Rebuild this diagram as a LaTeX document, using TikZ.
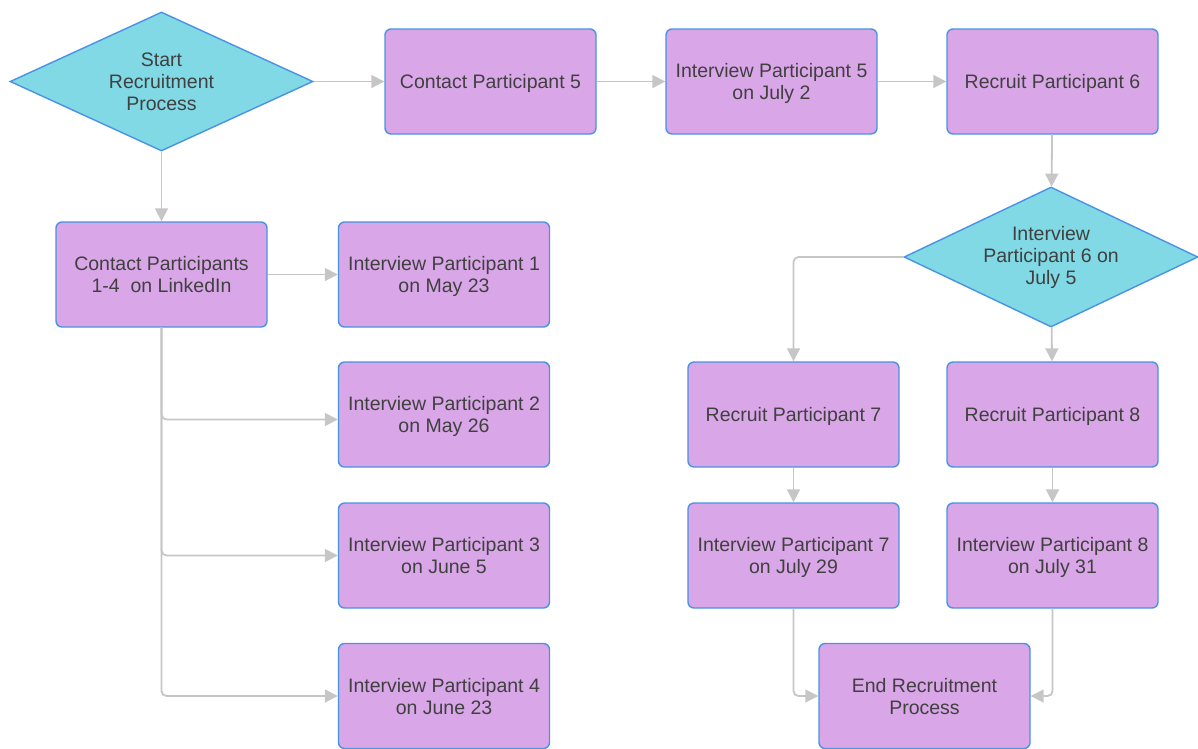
\documentclass[tikz,border=0pt]{standalone}
\usepackage{fontspec}
\setmainfont{Liberation Sans}
\usetikzlibrary{shapes.geometric,arrows.meta}

\definecolor{boxfill}{HTML}{D9A6E8}
\definecolor{decfill}{HTML}{80D9E4}
\definecolor{edgeblue}{HTML}{4A92E3}
\definecolor{linkgrey}{HTML}{C6C6C6}
\definecolor{textgrey}{HTML}{404040}

\tikzset{
  stepbox/.style={rectangle, rounded corners=6pt, draw=edgeblue, fill=boxfill,
    line width=1.4pt, minimum width=211pt, minimum height=105pt, inner sep=0pt,
    text depth=0pt, align=center, text=textgrey, font=\fontsize{19.5}{22}\selectfont},
  decision/.style={diamond, draw=edgeblue, fill=decfill, line width=1.4pt,
    minimum width=303pt, minimum height=139pt, aspect=2.18, inner sep=0pt,
    align=center, text=textgrey, font=\fontsize{19.5}{22}\selectfont},
  link/.style={draw=linkgrey, line width=1.8pt, rounded corners=5pt,
    -{Triangle[length=13pt,width=13pt]}},
}

\begin{document}
\begin{tikzpicture}[x=1pt, y=-1pt]

  %% ════ 判断框 ════
  \node[decision] (start) at (161.5,81.5) {Start\\Recruitment\\Process};
  \node[decision, minimum width=294pt, minimum height=140pt] (int6) at (1051,257) {Interview\\Participant 6 on\\July 5};

  %% ════ 上排 ════
  \node[stepbox] (contact5)  at (490.5,81.5)  {Contact Participant 5};
  \node[stepbox] (int5)      at (771.5,81.5)  {Interview Participant 5\\on July 2};
  \node[stepbox] (recruit6)  at (1052.5,81.5) {Recruit Participant 6};

  %% ════ 左侧 ════
  \node[stepbox] (contact14) at (161.5,274.5) {Contact Participants\\1-4~ on LinkedIn};
  \node[stepbox] (int1)      at (444,274.5)   {Interview Participant 1\\on May 23};
  \node[stepbox] (int2)      at (444,414.5)   {Interview Participant 2\\on May 26};
  \node[stepbox] (int3)      at (444,555.5)   {Interview Participant 3\\on June 5};
  \node[stepbox] (int4)      at (444,696)     {Interview Participant 4\\on June 23};

  %% ════ 右侧 ════
  \node[stepbox] (recruit7)  at (793.5,414.5)  {Recruit Participant 7};
  \node[stepbox] (recruit8)  at (1052.5,414.5) {Recruit Participant 8};
  \node[stepbox] (int7)      at (793.5,555.5)  {Interview Participant 7\\on July 29};
  \node[stepbox] (int8)      at (1052.5,555.5) {Interview Participant 8\\on July 31};
  \node[stepbox] (finish)    at (924.5,696)    {End Recruitment\\Process};

  %% ════ 连线 ════
  \draw[link] (start) -- (contact5);
  \draw[link] (contact5) -- (int5);
  \draw[link] (int5) -- (recruit6);
  \draw[link] (recruit6) -- (int6);
  \draw[link] (start) -- (contact14);
  \draw[link] (contact14) -- (int1);
  \draw[link] (contact14.south) |- ([yshift=-5pt]int2.west);
  \draw[link] (contact14.south) |- (int3.west);
  \draw[link] (contact14.south) |- (int4.west);
  \draw[link] (int6.west) -| (recruit7.north);
  \draw[link] (int6) -- (recruit8);
  \draw[link] (recruit7) -- (int7);
  \draw[link] (recruit8) -- (int8);
  \draw[link] (int7.south) |- (finish.west);
  \draw[link] (int8.south) |- (finish.east);

  % 钉死画布
  \pgfresetboundingbox
  \path[use as bounding box] (0,0) rectangle (1198,748);
\end{tikzpicture}
\end{document}
